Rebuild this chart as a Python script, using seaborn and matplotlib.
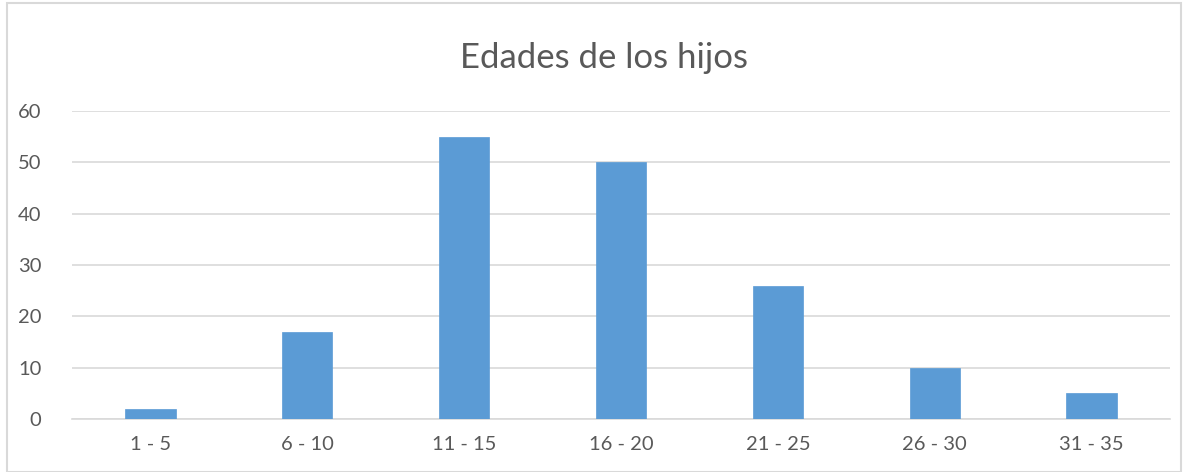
import matplotlib
matplotlib.use("Agg")
import matplotlib.pyplot as plt
import seaborn as sns
import pandas as pd
from matplotlib.patches import Rectangle

# data
categorias = ["1 - 5", "6 - 10", "11 - 15", "16 - 20", "21 - 25", "26 - 30", "31 - 35"]
valores = [2, 17, 55, 50, 26, 10, 5]

df = pd.DataFrame({"edad": categorias, "n": valores})

sns.set_style("white")
plt.rcParams["font.family"] = ["Lato", "DejaVu Sans"]

fig = plt.figure(figsize=(11.88, 4.72), dpi=100)
ax = fig.add_axes([0.0606, 0.1123, 0.9242, 0.6525])

sns.barplot(data=df, x="edad", y="n", color="#5B9BD5", width=0.32,
            saturation=1, edgecolor="#5B9BD5", linewidth=0.5, ax=ax, zorder=3)

ax.set_ylim(0, 60)
ax.set_yticks(range(0, 61, 10))
ax.set_xlim(-0.5, len(categorias) - 0.5)
ax.yaxis.grid(True, color="#D9D9D9", linewidth=1.2, zorder=0)
ax.set_axisbelow(True)
for s in ["top", "right", "left"]:
    ax.spines[s].set_visible(False)
ax.spines["bottom"].set_color("#D9D9D9")
ax.spines["bottom"].set_linewidth(1.2)
ax.tick_params(axis="both", length=0, labelsize=14.5, labelcolor="#595959")
ax.tick_params(axis="x", pad=12)
ax.tick_params(axis="y", pad=22)
ax.set_xlabel("")
ax.set_ylabel("")

fig.text(0.508, 0.877, "Edades de los hijos", ha="center", va="center",
         fontsize=25, color="#595959")

# light frame around the chart area
fig.patches.append(Rectangle((0.006, 0.0), 0.988, 0.994, transform=fig.transFigure,
                             fill=False, edgecolor="#D9D9D9", linewidth=1.5))

fig.savefig("out.png", dpi=100)
